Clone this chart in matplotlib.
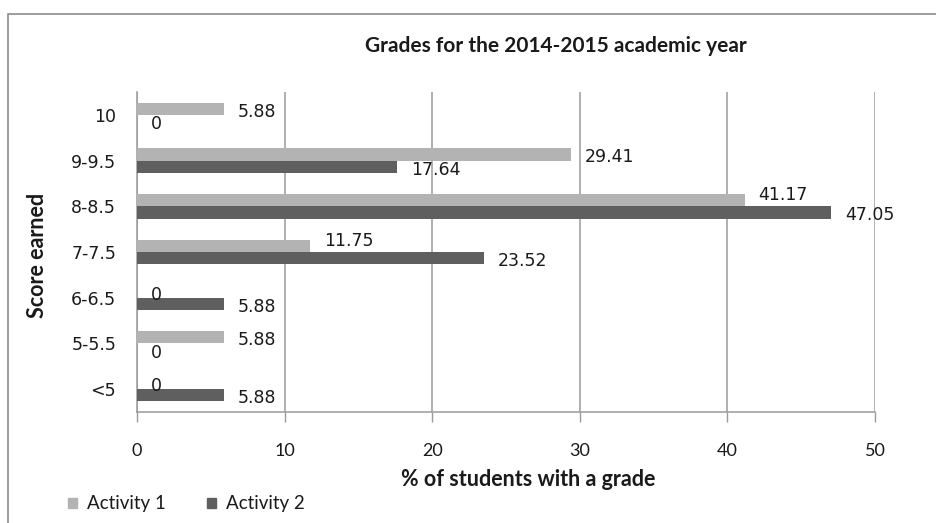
import matplotlib
matplotlib.use('Agg')
import matplotlib.pyplot as plt
from matplotlib.patches import Rectangle, Patch

categories = ['<5', '5-5.5', '6-6.5', '7-7.5', '8-8.5', '9-9.5', '10']
activity1 = [0, 5.88, 0, 11.75, 41.17, 29.41, 5.88]
activity2 = [5.88, 0, 5.88, 23.52, 47.05, 17.64, 0]
series_names = ['Activity 1', 'Activity 2']
xticks = [0, 10, 20, 30, 40, 50]
title = 'Grades for the 2014-2015 academic year'
xlabel = '% of students with a grade'
ylabel = 'Score earned'

W, H = 936, 523
c1, c2 = '#b3b3b3', '#5f5f5f'
grid_c = '#9a9a9a'
calib = ['Lato', 'DejaVu Sans']
verd = ['DejaVu Sans']
txt_c = '#1a1a1a'

fig = plt.figure(figsize=(W / 100, H / 100), dpi=100)
ax = fig.add_axes([137 / W, (H - 412) / H, (875 - 137) / W, (412 - 92) / H])

y = list(range(len(categories)))
h = 0.27
ax.barh([v + h / 2 for v in y], activity1, height=h, color=c1, zorder=3)
ax.barh([v - h / 2 for v in y], activity2, height=h, color=c2, zorder=3)

for i, (a1, a2) in enumerate(zip(activity1, activity2)):
    dy1 = 5 if (a2 > a1 and a1 > 0) else -3
    ax.annotate(f'{a1:g}', (a1, i + h / 2), xytext=(14, dy1), textcoords='offset pixels',
                ha='left', va='center', fontsize=12.5, family=verd, color=txt_c, zorder=4)
    ax.annotate(f'{a2:g}', (a2, i - h / 2), xytext=(14, -3), textcoords='offset pixels',
                ha='left', va='center', fontsize=12.5, family=verd, color=txt_c, zorder=4)

ax.set_xlim(0, 50)
ax.set_ylim(-0.5, len(categories) - 0.5)
ax.set_xticks(xticks)
ax.set_xticklabels([str(t) for t in xticks], family=calib, fontsize=13, color=txt_c)
ax.set_yticks(y)
ax.set_yticklabels(categories, family=verd, fontsize=12.5, color=txt_c)
ax.tick_params(axis='x', length=7, width=1, color=grid_c, pad=15)
ax.tick_params(axis='y', length=0, pad=15)
ax.grid(axis='x', color=grid_c, linewidth=1.1, zorder=0)
for s in ['top', 'right']:
    ax.spines[s].set_visible(False)
for s in ['left', 'bottom']:
    ax.spines[s].set_color(grid_c)
    ax.spines[s].set_linewidth(1.1)

fig.text(556 / W, (H - 46) / H, title, ha='center', va='center', family=calib,
         fontsize=15, fontweight='bold', color=txt_c)
fig.text(528 / W, (H - 480) / H, xlabel, ha='center', va='center', family=calib,
         fontsize=15.5, fontweight='bold', color=txt_c)
fig.text(38 / W, (H - 255) / H, ylabel, ha='center', va='center', rotation=90,
         family=calib, fontsize=15.5, fontweight='bold', color=txt_c)

handles = [Patch(color=c1), Patch(color=c2)]
fig.legend(handles, series_names, loc='center left', bbox_to_anchor=(68 / W, (H - 504) / H),
           ncol=2, frameon=False, handlelength=0.5, handleheight=0.5, handletextpad=0.5,
           columnspacing=2.2, borderaxespad=0, borderpad=0,
           prop={'family': calib, 'size': 13.5})
for t in fig.legends[0].get_texts():
    t.set_color(txt_c)

fig.add_artist(Rectangle((8 / W, -0.2), 1.5, (H - 14) / H + 0.2, transform=fig.transFigure,
                         fill=False, edgecolor='#8c8c8c', linewidth=1.2))

fig.savefig('out.png', dpi=100, facecolor='white')
